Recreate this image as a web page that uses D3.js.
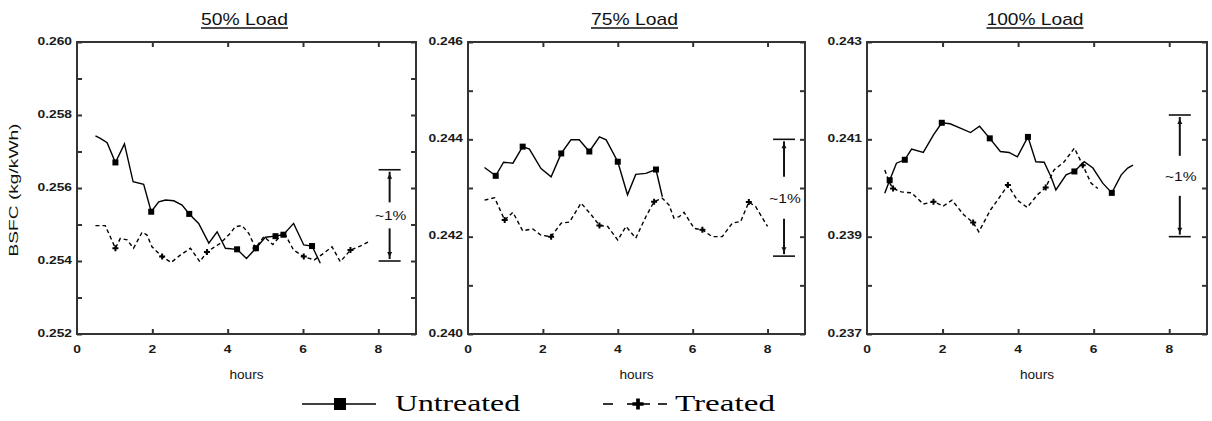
<!DOCTYPE html>
<html>
<head>
<meta charset="utf-8">
<script src="https://cdn.jsdelivr.net/npm/d3@7"></script>
<style>
  html, body { margin: 0; padding: 0; background: #fff; }
  svg { display: block; }
</style>
</head>
<body>
<svg id="chart" width="1212" height="421"></svg>
<script>
// ---- data -------------------------------------------------------------
const panelTitles = ["50% Load", "75% Load", "100% Load"];
const yDomains = [[0.252, 0.260], [0.240, 0.246], [0.237, 0.243]];
const yTickLabels = [
  ["0.252", "0.254", "0.256", "0.258", "0.260"],
  ["0.240", "0.242", "0.244", "0.246"],
  ["0.237", "0.239", "0.241", "0.243"]
];
const xTickLabels = ["0", "2", "4", "6", "8"];
const seriesNames = ["Untreated", "Treated"];

// [hours, BSFC kg/kWh]
const untreated50 = [
  [0.49,0.25743],[0.62,0.25736],[0.80,0.25724],[1.02,0.25670],[1.26,0.25721],[1.49,0.25617],
  [1.77,0.25610],[1.97,0.25535],[2.17,0.25562],[2.35,0.25567],[2.57,0.25565],[2.79,0.25553],
  [2.98,0.25529],[3.23,0.25503],[3.50,0.25449],[3.72,0.25480],[3.94,0.25435],[4.25,0.25432],
  [4.50,0.25407],[4.75,0.25435],[5.00,0.25465],[5.27,0.25468],[5.48,0.25472],[5.75,0.25503],
  [6.02,0.25444],[6.24,0.25441],[6.46,0.25394]
];
const treated50 = [
  [0.49,0.25497],[0.75,0.25497],[1.02,0.25435],[1.15,0.25462],[1.33,0.25458],[1.50,0.25435],
  [1.73,0.25479],[1.86,0.25471],[1.99,0.25439],[2.26,0.25412],[2.50,0.25396],[2.74,0.25416],
  [3.01,0.25435],[3.26,0.25398],[3.45,0.25425],[3.81,0.25449],[4.07,0.25476],[4.20,0.25494],
  [4.38,0.25497],[4.56,0.25476],[4.74,0.25435],[4.96,0.25467],[5.20,0.25445],[5.49,0.25480],
  [5.75,0.25430],[6.02,0.25412],[6.30,0.25403],[6.55,0.25421],[6.77,0.25439],[6.99,0.25398],
  [7.26,0.25430],[7.50,0.25440],[7.75,0.25453]
];
const untreated75 = [
  [0.44,0.24342],[0.74,0.24325],[0.95,0.24353],[1.20,0.24351],[1.46,0.24385],[1.64,0.24380],
  [1.95,0.24340],[2.22,0.24323],[2.49,0.24371],[2.75,0.24399],[2.97,0.24399],[3.24,0.24375],
  [3.51,0.24405],[3.69,0.24399],[4.00,0.24354],[4.26,0.24286],[4.48,0.24328],[4.75,0.24330],
  [5.02,0.24338],[5.19,0.24282]
];
const treated75 = [
  [0.44,0.24275],[0.71,0.24280],[0.98,0.24234],[1.20,0.24250],[1.46,0.24212],[1.73,0.24216],
  [1.95,0.24203],[2.22,0.24200],[2.49,0.24228],[2.71,0.24230],[3.02,0.24269],[3.29,0.24245],
  [3.51,0.24223],[3.73,0.24221],[4.00,0.24193],[4.22,0.24221],[4.48,0.24197],[4.75,0.24241],
  [4.97,0.24272],[5.19,0.24279],[5.37,0.24265],[5.50,0.24238],[5.64,0.24241],[5.77,0.24250],
  [6.04,0.24217],[6.26,0.24214],[6.52,0.24200],[6.79,0.24200],[7.06,0.24228],[7.28,0.24231],
  [7.50,0.24271],[7.68,0.24262],[8.00,0.24221]
];
const untreated100 = [
  [0.47,0.23989],[0.60,0.24016],[0.78,0.24051],[1.00,0.24058],[1.18,0.24080],[1.49,0.24073],
  [1.76,0.24109],[1.98,0.24134],[2.20,0.24132],[2.47,0.24123],[2.74,0.24114],[2.98,0.24127],
  [3.25,0.24102],[3.53,0.24075],[3.76,0.24073],[3.98,0.24064],[4.26,0.24105],[4.47,0.24054],
  [4.69,0.24053],[4.87,0.24023],[5.00,0.23996],[5.27,0.24027],[5.49,0.24034],[5.75,0.24054],
  [5.98,0.24041],[6.24,0.24010],[6.48,0.23990],[6.73,0.24027],[6.90,0.24041],[7.04,0.24047]
];
const treated100 = [
  [0.47,0.24037],[0.60,0.24010],[0.69,0.23999],[0.91,0.23992],[1.18,0.23990],[1.49,0.23967],
  [1.76,0.23972],[2.02,0.23963],[2.25,0.23975],[2.56,0.23945],[2.81,0.23929],[2.96,0.23910],
  [3.27,0.23955],[3.49,0.23979],[3.73,0.24006],[3.98,0.23975],[4.24,0.23960],[4.51,0.23986],
  [4.73,0.24001],[4.95,0.24037],[5.22,0.24054],[5.49,0.24082],[5.71,0.24047],[5.93,0.24010],
  [6.11,0.23999]
];

// indices of points that carry a symbol
const untreatedMarks = [[3, 7, 12, 17, 19, 21, 22, 25], [1, 4, 8, 11, 14, 18], [1, 3, 7, 12, 16, 22, 26]];
const treatedMarks = [[2, 9, 14, 20, 25, 30], [2, 7, 12, 18, 25, 30], [2, 6, 10, 14, 18, 22]];

// ~1% spread indicator: [hour, low, high]
const spreadBars = [[8.30, 0.2540, 0.2565], [8.44, 0.2416, 0.2440], [8.28, 0.2390, 0.2415]];
const spreadLabel = "~1%";

const untreatedSets = [untreated50, untreated75, untreated100];
const treatedSets = [treated50, treated75, treated100];

// ---- layout -------------------------------------------------------------
const svg = d3.select("#chart");
const frames = [
  { left: 77, right: 416 },
  { left: 468, right: 805 },
  { left: 867, right: 1207 }
];
const plotTop = 42, plotBottom = 334;
const frameColor = "#333";
const sansFont = "'Liberation Sans', Arial, sans-serif";
const serifFont = "'Liberation Serif', 'Times New Roman', serif";
const titleWidths = [87, 87, 97];
const gapHalf = [13, 21, 20];

function stretchText(g, str, x, y, sx, opts) {
  const t = g.append("text")
    .attr("transform", `translate(${x},${y}) scale(${sx},1)`)
    .text(str);
  Object.entries(opts || {}).forEach(([k, v]) => t.attr(k, v));
  return t;
}

const line = (xs, ys) => d3.line().x(d => xs(d[0])).y(d => ys(d[1]));

frames.forEach((f, i) => {
  const g = svg.append("g");
  const x = d3.scaleLinear().domain([0, 9]).range([f.left, f.right]);
  const y = d3.scaleLinear().domain(yDomains[i]).range([plotBottom, plotTop]);
  const minor = d3.range(yDomains[i][0], yDomains[i][1] + 1e-9, 0.001);
  const xMajor = xTickLabels.map(Number);

  // inward tick marks on all four sides
  const tickLen = 5;
  const axes = [
    [d3.axisLeft(y).tickValues(minor).tickSize(-tickLen), `translate(${f.left},0)`],
    [d3.axisRight(y).tickValues(minor).tickSize(-tickLen), `translate(${f.right},0)`],
    [d3.axisBottom(x).tickValues(xMajor.filter(v => v > 0)).tickSize(-tickLen), `translate(0,${plotBottom})`],
    [d3.axisTop(x).tickValues(xMajor.filter(v => v > 0)).tickSize(-tickLen), `translate(0,${plotTop})`]
  ];
  axes.forEach(([ax, tr]) => {
    const a = g.append("g").attr("transform", tr).call(ax.tickFormat(""));
    a.select(".domain").remove();
    a.selectAll("line").attr("stroke", frameColor).attr("stroke-width", 2);
  });

  g.append("rect")
    .attr("x", f.left).attr("y", plotTop)
    .attr("width", f.right - f.left).attr("height", plotBottom - plotTop)
    .attr("fill", "none").attr("stroke", frameColor).attr("stroke-width", 2);

  // y labels
  yTickLabels[i].forEach(lbl => {
    stretchText(g, lbl, f.left - 5, y(+lbl) + 2.5, 1.2, {
      "text-anchor": "end", "font-family": sansFont, "font-size": 11.5,
      "font-weight": "bold", fill: "#1a1a1a"
    });
  });
  // x labels
  xTickLabels.forEach(lbl => {
    stretchText(g, lbl, x(+lbl), 353, 1.2, {
      "text-anchor": "middle", "font-family": sansFont, "font-size": 11.5,
      "font-weight": "bold", fill: "#1a1a1a"
    });
  });
  // axis title
  const cx = (f.left + f.right) / 2;
  stretchText(g, "hours", cx, 379, 1.05, {
    "text-anchor": "middle", "font-family": sansFont, "font-size": 13, fill: "#111"
  });
  // panel title, underlined
  g.append("text")
    .attr("x", cx - 2).attr("y", 25)
    .attr("text-anchor", "middle")
    .attr("font-family", sansFont).attr("font-size", 17)
    .attr("textLength", titleWidths[i]).attr("lengthAdjust", "spacingAndGlyphs")
    .attr("fill", "#111")
    .text(panelTitles[i]);
  g.append("line")
    .attr("x1", cx - 2 - titleWidths[i] / 2).attr("x2", cx - 2 + titleWidths[i] / 2)
    .attr("y1", 28).attr("y2", 28)
    .attr("stroke", "#111").attr("stroke-width", 1.3);

  // series
  const unt = untreatedSets[i], trt = treatedSets[i];
  g.append("path").datum(trt)
    .attr("d", line(x, y)).attr("fill", "none")
    .attr("stroke", "#000").attr("stroke-width", 1.4)
    .attr("stroke-dasharray", "4,3");
  g.append("path").datum(unt)
    .attr("d", line(x, y)).attr("fill", "none")
    .attr("stroke", "#000").attr("stroke-width", 1.4);

  g.selectAll(".sq").data(untreatedMarks[i].map(k => unt[k])).enter()
    .append("rect")
    .attr("x", d => x(d[0]) - 3).attr("y", d => y(d[1]) - 3)
    .attr("width", 6).attr("height", 6).attr("fill", "#000");
  g.selectAll(".pl").data(treatedMarks[i].map(k => trt[k])).enter()
    .append("path")
    .attr("d", d3.symbol(d3.symbolCross).size(20))
    .attr("transform", d => `translate(${x(d[0])},${y(d[1])})`)
    .attr("fill", "#000");

  // ~1% spread indicator
  const [hb, lo, hi] = spreadBars[i];
  const bx = x(hb), yLo = y(lo), yHi = y(hi), yMid = (yLo + yHi) / 2;
  const sb = g.append("g").attr("stroke", "#111");
  sb.append("line").attr("x1", bx - 11).attr("x2", bx + 11).attr("y1", yHi).attr("y2", yHi).attr("stroke-width", 1.6);
  sb.append("line").attr("x1", bx - 11).attr("x2", bx + 11).attr("y1", yLo).attr("y2", yLo).attr("stroke-width", 1.6);
  sb.append("line").attr("x1", bx).attr("x2", bx).attr("y1", yHi + 2).attr("y2", yMid - gapHalf[i]).attr("stroke-width", 2);
  sb.append("line").attr("x1", bx).attr("x2", bx).attr("y1", yMid + gapHalf[i]).attr("y2", yLo - 2).attr("stroke-width", 2);
  g.append("path").attr("d", `M${bx},${yHi + 4}l-2.5,5h5z`).attr("fill", "#111");
  g.append("path").attr("d", `M${bx},${yLo - 4}l-2.5,-5h5z`).attr("fill", "#111");
  stretchText(g, spreadLabel, bx + 1, yMid + 5, 1.15, {
    "text-anchor": "middle", "font-family": sansFont, "font-size": 13.5, fill: "#111"
  });
});

// y axis title
svg.append("text")
  .attr("transform", "translate(18,190) rotate(-90)")
  .attr("text-anchor", "middle")
  .attr("font-family", sansFont).attr("font-size", 12)
  .attr("textLength", 133).attr("lengthAdjust", "spacingAndGlyphs")
  .attr("fill", "#111")
  .text("BSFC (kg/kWh)");

// legend
const lg = svg.append("g");
const legY = 404;
lg.append("line").attr("x1", 302).attr("x2", 376).attr("y1", legY).attr("y2", legY)
  .attr("stroke", "#000").attr("stroke-width", 1.6);
lg.append("rect").attr("x", 334).attr("y", legY - 6).attr("width", 12).attr("height", 12).attr("fill", "#000");
lg.append("text").attr("x", 395).attr("y", legY + 7)
  .attr("font-family", serifFont).attr("font-size", 23)
  .attr("textLength", 125).attr("lengthAdjust", "spacingAndGlyphs")
  .attr("fill", "#000").text(seriesNames[0]);

[[603, 613], [627, 650], [658, 667]].forEach(([a, b]) => {
  lg.append("line").attr("x1", a).attr("x2", b).attr("y1", legY).attr("y2", legY)
    .attr("stroke", "#000").attr("stroke-width", 1.6);
});
lg.append("path").attr("d", d3.symbol(d3.symbolCross).size(70))
  .attr("transform", `translate(638,${legY})`).attr("fill", "#000");
lg.append("text").attr("x", 675).attr("y", legY + 7)
  .attr("font-family", serifFont).attr("font-size", 23)
  .attr("textLength", 100).attr("lengthAdjust", "spacingAndGlyphs")
  .attr("fill", "#000").text(seriesNames[1]);
</script>
</body>
</html>
